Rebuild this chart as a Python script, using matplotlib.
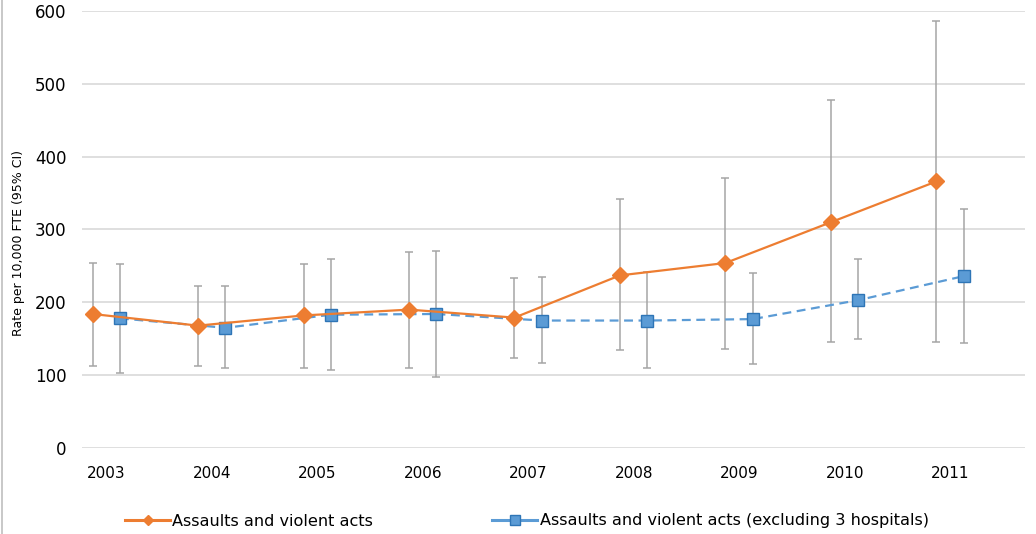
import matplotlib
matplotlib.use("Agg")
import matplotlib.pyplot as plt
from matplotlib.lines import Line2D
import numpy as np

plt.rcParams['font.family'] = ['DejaVu Sans']

years = ["2003", "2004", "2005", "2006", "2007", "2008", "2009", "2010", "2011"]

all_rate = [184, 168, 182, 190, 179, 237, 254, 310, 366]
all_low = [113, 113, 110, 110, 124, 134, 136, 145, 146]
all_high = [254, 222, 253, 269, 234, 342, 371, 478, 586]

excl_rate = [178, 165, 183, 184, 175, 175, 177, 203, 236]
excl_low = [103, 110, 107, 98, 117, 110, 115, 149, 144]
excl_high = [253, 222, 260, 270, 235, 241, 240, 259, 328]

label_all = "Assaults and violent acts"
label_excl = "Assaults and violent acts (excluding 3 hospitals)"

orange = "#ED7D31"
blue = "#5B9BD5"
blue_edge = "#2E75B6"
err_col = "#A5A5A5"

fig = plt.figure(figsize=(10.36, 5.34), dpi=100)
ax = fig.add_axes([82/1036, 1-448/534, (1025-82)/1036, (448-11)/534])

x = np.arange(len(years))
off = 0.13
xa = x - off
xb = x + off

a = np.array(all_rate); al = np.array(all_low); ah = np.array(all_high)
b = np.array(excl_rate); bl = np.array(excl_low); bh = np.array(excl_high)

ax.errorbar(xa, a, yerr=[a - al, ah - a], fmt='none', ecolor=err_col,
            elinewidth=1.1, capsize=3, capthick=1.1, zorder=1)
ax.errorbar(xb, b, yerr=[b - bl, bh - b], fmt='none', ecolor=err_col,
            elinewidth=1.1, capsize=3, capthick=1.1, zorder=1)

ax.plot(xb, b, color=blue, lw=1.6, ls=(0, (4, 2.5)), marker='s', markersize=8.5,
        markerfacecolor=blue, markeredgecolor=blue_edge, markeredgewidth=1.0, zorder=3)
ax.plot(xa, a, color=orange, lw=1.6, marker='D', markersize=7.8,
        markerfacecolor=orange, markeredgecolor=orange, zorder=4)

ax.set_ylim(0, 600)
ax.set_yticks(range(0, 601, 100))
ax.set_xlim(-0.23, 8.71)
ax.set_xticks(x)
ax.set_xticklabels(years)
ax.grid(axis='y', color='#D9D9D9', lw=1.2)
ax.set_axisbelow(True)
for s in ax.spines.values():
    s.set_visible(False)
ax.tick_params(axis='both', length=0)
ax.tick_params(axis='y', pad=11, labelsize=12, labelcolor='#000000')
ax.tick_params(axis='x', pad=13, labelsize=11, labelcolor='#000000')

ax.set_ylabel("Rate per 10,000 FTE (95% CI)", fontsize=9)
ax.yaxis.set_label_coords((25-82)/943, (448-243)/437)

h1 = Line2D([], [], color=orange, lw=2.2, marker='D', markersize=5,
            markerfacecolor=orange, markeredgecolor=orange)
h2 = Line2D([], [], color=blue, lw=2.2, marker='s', markersize=7,
            markerfacecolor=blue, markeredgecolor=blue_edge)
fig.legend([h1, h2], [label_all, label_excl], loc='center left',
           bbox_to_anchor=(125/1036, 1-521/534), ncol=2, frameon=False,
           fontsize=11.6, handlelength=2.8, handletextpad=0.13,
           columnspacing=7.4, borderpad=0, borderaxespad=0)

fig.add_artist(Line2D([0.0015, 0.0015], [0, 1], transform=fig.transFigure,
                      color='#BFBFBF', lw=1.2))

fig.savefig("out.png", dpi=100)
